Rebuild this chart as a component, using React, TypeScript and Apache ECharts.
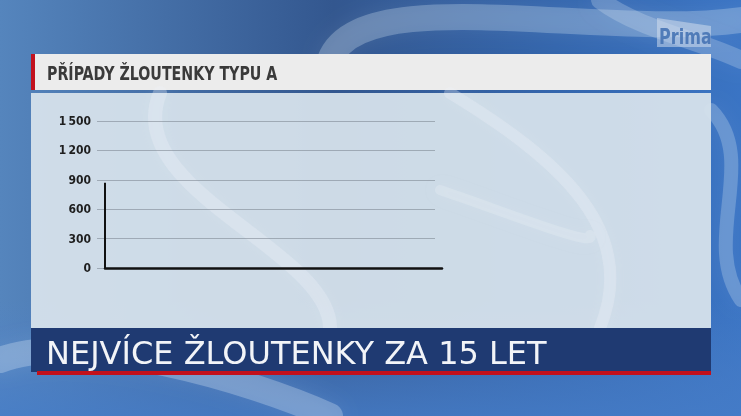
import { useEffect, useRef } from "react";
import * as echarts from "echarts";

// ----- data -----
const chartTitle = "PŘÍPADY ŽLOUTENKY TYPU A";
const headline = "NEJVÍCE ŽLOUTENKY ZA 15 LET";
const yTicks = [0, 300, 600, 900, 1200, 1500];
const caseIndex = [0, 0]; // the line has only started: first year
const caseValues = [0, 870];
const yearCount = 15;

const condensed = '"DejaVu Sans Condensed", "Roboto Condensed", sans-serif';
const wide = '"DejaVu Sans", "Noto Sans", sans-serif';

// thin space as thousands separator ("1 500")
const fmtThousands = (v: number) =>
    v >= 1000 ? `${Math.floor(v / 1000)}\u2009${String(v % 1000).padStart(3, "0")}` : String(v);

export default function App() {
    const containerRef = useRef<HTMLDivElement | null>(null);

    useEffect(() => {
        if (!containerRef.current) return;
        const chart = echarts.init(containerRef.current, undefined, { renderer: "svg" });

        const yMax = yTicks[yTicks.length - 1];
        const yStep = yTicks[1] - yTicks[0];

        const swirl = (shape: any, stroke: string, lineWidth: number, z: number, blur = 20) => ({
            type: "bezierCurve",
            z,
            silent: true,
            shape,
            style: { stroke, lineWidth, fill: "none", shadowBlur: blur, shadowColor: stroke, lineCap: "round" },
        });

        const option: echarts.EChartsOption = {
            animation: false,
            backgroundColor: "transparent",
            graphic: [
                // ----- background -----
                {
                    type: "rect",
                    z: 0,
                    shape: { x: 0, y: 0, width: 741, height: 416 },
                    style: {
                        fill: new echarts.graphic.LinearGradient(0, 0, 1, 0, [
                            { offset: 0, color: "#5585bd" },
                            { offset: 0.45, color: "#33578f" },
                            { offset: 0.75, color: "#3466ad" },
                            { offset: 1, color: "#3a74c4" },
                        ]),
                    },
                },
                {
                    type: "rect",
                    z: 0,
                    shape: { x: 0, y: 300, width: 741, height: 116 },
                    style: {
                        fill: new echarts.graphic.LinearGradient(0, 0, 0, 1, [
                            { offset: 0, color: "rgba(80,130,200,0)" },
                            { offset: 1, color: "rgba(70,125,200,0.8)" },
                        ]),
                    },
                },
                swirl({ x1: 330, y1: 60, x2: 741, y2: 20, cpx1: 360, cpy1: -20, cpx2: 600, cpy2: 40 }, "rgba(210,225,240,0.3)", 26, 0),
                swirl({ x1: 600, y1: 0, x2: 741, y2: 60, cpx1: 640, cpy1: 30, cpx2: 700, cpy2: 40 }, "rgba(220,230,245,0.25)", 18, 0),
                swirl({ x1: 0, y1: 360, x2: 330, y2: 416, cpx1: 80, cpy1: 330, cpx2: 250, cpy2: 380 }, "rgba(220,232,245,0.3)", 26, 0),
                swirl({ x1: 711, y1: 110, x2: 741, y2: 300, cpx1: 760, cpy1: 160, cpx2: 700, cpy2: 240 }, "rgba(200,220,240,0.3)", 14, 0),
                // ----- logo -----
                {
                    type: "polygon",
                    z: 1,
                    shape: { points: [[657, 18], [711, 26], [711, 47], [657, 47]] },
                    style: { fill: "rgba(215,226,240,0.5)" },
                },
                {
                    type: "text",
                    z: 1,
                    x: 659,
                    y: 47,
                    scaleX: 0.85,
                    style: {
                        x: 0, y: 0, text: "Prima", textVerticalAlign: "bottom",
                        fill: "rgba(70,115,180,0.9)", font: `bold 21px ${condensed}`,
                    },
                },
                // ----- title bar -----
                {
                    type: "rect",
                    z: 1,
                    shape: { x: 31, y: 54, width: 680, height: 36 },
                    style: { fill: "#ececec" },
                },
                {
                    type: "rect",
                    z: 1,
                    shape: { x: 31, y: 54, width: 4, height: 36 },
                    style: { fill: "#c2121f" },
                },
                {
                    type: "text",
                    z: 1,
                    x: 47,
                    y: 73,
                    scaleX: 0.79,
                    style: {
                        x: 0, y: 0, text: chartTitle, textVerticalAlign: "middle",
                        fill: "#3a3a3a", font: `bold 20px ${condensed}`,
                    },
                },
                // ----- panel -----
                {
                    type: "rect",
                    z: 1,
                    shape: { x: 31, y: 93, width: 680, height: 235 },
                    style: { fill: "rgba(214,225,235,0.95)" },
                },
                swirl({ x1: 160, y1: 93, x2: 330, y2: 328, cpx1: 120, cpy1: 190, cpx2: 330, cpy2: 250 }, "rgba(238,242,247,0.3)", 14, 1, 14),
                swirl({ x1: 450, y1: 93, x2: 600, y2: 328, cpx1: 560, cpy1: 160, cpx2: 640, cpy2: 230 }, "rgba(238,242,247,0.3)", 12, 1, 14),
                swirl({ x1: 440, y1: 190, x2: 590, y2: 235, cpx1: 500, cpy1: 210, cpx2: 600, cpy2: 250 }, "rgba(238,242,247,0.25)", 10, 1, 14),
                // ----- headline banner -----
                {
                    type: "rect",
                    z: 1,
                    shape: { x: 31, y: 328, width: 680, height: 44 },
                    style: { fill: "#1f3a72" },
                },
                {
                    type: "rect",
                    z: 1,
                    shape: { x: 37, y: 371, width: 674, height: 4 },
                    style: { fill: "#c2101c" },
                },
                {
                    type: "text",
                    z: 1,
                    style: {
                        x: 46, y: 353, text: headline, textVerticalAlign: "middle",
                        fill: "#f2f4f8", font: `32px ${wide}`,
                    },
                },
            ],
            grid: [
                // grid lines and y labels
                { left: 97, right: 306, top: 121, bottom: 148, z: 5 },
                // data line and base axis
                { left: 105, right: 299, top: 121, bottom: 148, z: 6 },
            ],
            xAxis: [
                { gridIndex: 0, type: "value", min: 0, max: yearCount - 1, show: false },
                {
                    gridIndex: 1,
                    type: "value",
                    min: 0,
                    max: yearCount - 1,
                    z: 6,
                    axisLine: { show: true, onZero: true, lineStyle: { color: "#111", width: 2.5 } },
                    axisTick: { show: false },
                    axisLabel: { show: false },
                    splitLine: { show: false },
                },
            ],
            yAxis: [
                {
                    gridIndex: 0,
                    type: "value",
                    min: 0,
                    max: yMax,
                    interval: yStep,
                    z: 5,
                    axisLine: { show: false },
                    axisTick: { show: false },
                    axisLabel: {
                        margin: 6,
                        color: "#1e1e1e",
                        fontFamily: condensed,
                        fontWeight: "bold",
                        fontSize: 12,
                        formatter: (v: number) => fmtThousands(v),
                    },
                    splitLine: { lineStyle: { color: "rgba(120,130,140,0.55)", width: 1 } },
                },
                { gridIndex: 1, type: "value", min: 0, max: yMax, interval: yStep, show: false },
            ],
            series: [
                {
                    type: "line",
                    xAxisIndex: 1,
                    yAxisIndex: 1,
                    z: 7,
                    showSymbol: false,
                    lineStyle: { color: "#111", width: 2 },
                    data: caseIndex.map((x, i) => [x, caseValues[i]]),
                },
            ],
        };

        chart.setOption(option);
        return () => chart.dispose();
    }, []);

    return (
        <div
            ref={containerRef}
            style={{ position: "fixed", left: 0, top: 0, width: 741, height: 416 }}
        />
    );
}
